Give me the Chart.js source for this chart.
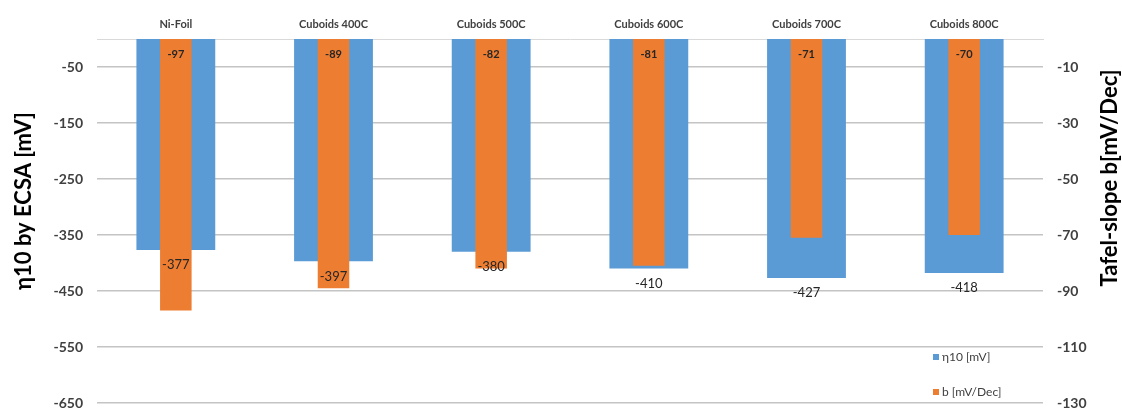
<!DOCTYPE html>
<html>
<head>
<meta charset="utf-8">
<script src="https://cdn.jsdelivr.net/npm/chart.js@4.4.1/dist/chart.umd.min.js"></script>
<style>
  html, body { margin: 0; padding: 0; background: #fff; }
  #wrap { width: 1122px; height: 408px; }
</style>
</head>
<body>
<div id="wrap"><canvas id="myChart" width="1122" height="408"></canvas></div>
<script>
// categories and values
var samples = ['Ni-Foil', 'Cuboids 400C', 'Cuboids 500C', 'Cuboids 600C', 'Cuboids 700C', 'Cuboids 800C'];
var eta10 = [-377, -397, -380, -410, -427, -418];
var tafel = [-97, -89, -82, -81, -71, -70];

// tick labels of both value axes
var eta10Ticks = [-650, -550, -450, -350, -250, -150, -50];
var tafelTicks = [-130, -110, -90, -70, -50, -30, -10];

var blue = '#5B9BD5';
var orange = '#ED7D31';
var textColor = '#404040';
var fontName = 'Lato, "Open Sans", sans-serif';

// value labels, axis titles and the legend are drawn by hand
var extrasPlugin = {
  id: 'extras',
  afterDatasetsDraw: function(chart) {
    var ctx = chart.ctx;
    ctx.save();
    ctx.textAlign = 'center';
    ctx.textBaseline = 'middle';

    // η10 values below the end of each blue bar
    var metaBlue = chart.getDatasetMeta(1);
    ctx.fillStyle = '#262626';
    ctx.font = '13px ' + fontName;
    metaBlue.data.forEach(function(bar, i) {
      ctx.fillText(chart.data.datasets[1].data[i], bar.x, bar.y + 15);
    });

    // Tafel values inside the top of each orange bar
    var metaOrange = chart.getDatasetMeta(0);
    ctx.font = 'bold 11px ' + fontName;
    metaOrange.data.forEach(function(bar, i) {
      ctx.fillText(chart.data.datasets[0].data[i], bar.x, bar.base + 15);
    });

    // axis titles, both reading bottom to top
    ctx.fillStyle = '#000';
    ctx.font = 'bold 22px ' + fontName;
    ctx.save();
    ctx.translate(24, 201);
    ctx.rotate(-Math.PI / 2);
    ctx.fillText('η10 by ECSA [mV]', 0, 0);
    ctx.restore();
    ctx.save();
    ctx.translate(1110, 178);
    ctx.rotate(-Math.PI / 2);
    ctx.fillText('Tafel-slope b[mV/Dec]', 0, 0);
    ctx.restore();

    // legend
    var items = [
      { text: chart.data.datasets[1].label, color: blue, y: 357 },
      { text: chart.data.datasets[0].label, color: orange, y: 392 }
    ];
    ctx.textAlign = 'left';
    ctx.font = '12px ' + fontName;
    items.forEach(function(it) {
      ctx.fillStyle = it.color;
      ctx.fillRect(933, it.y - 3, 6, 6);
      ctx.fillStyle = textColor;
      ctx.fillText(it.text, 942, it.y);
    });
    ctx.restore();
  }
};

// fixed width for a value axis, without the extra room Chart.js keeps for the end labels
function fitValueAxis(width) {
  return function(scale) {
    scale.width = width;
    scale.paddingTop = 0;
    scale.paddingBottom = 0;
  };
}

var ctx = document.getElementById('myChart').getContext('2d');
var myChart = new Chart(ctx, {
  type: 'bar',
  data: {
    labels: samples,
    datasets: [{
      label: 'b [mV/Dec]',
      data: tafel,
      yAxisID: 'y1',
      backgroundColor: orange,
      barPercentage: 0.2,
      categoryPercentage: 1,
      grouped: false,
      order: 0
    }, {
      label: 'η10 [mV]',
      data: eta10,
      yAxisID: 'y',
      backgroundColor: blue,
      barPercentage: 0.5,
      categoryPercentage: 1,
      grouped: false,
      order: 1
    }]
  },
  options: {
    responsive: false,
    animation: false,
    layout: { padding: { top: 0, bottom: 5, left: 0, right: 0 } },
    plugins: {
      legend: { display: false },
      tooltip: { enabled: false }
    },
    scales: {
      x: {
        position: 'top',
        grid: { display: false, drawTicks: false },
        border: { display: true, color: '#d9d9d9', width: 1 },
        ticks: {
          color: textColor,
          font: { family: fontName, size: 11, weight: 'bold' },
          padding: 8,
          maxRotation: 0
        },
        afterFit: function(scale) { scale.height = 39; }
      },
      y: {
        position: 'left',
        min: -650,
        max: 0,
        afterBuildTicks: function(scale) {
          scale.ticks = eta10Ticks.map(function(v) { return { value: v }; });
        },
        grid: { color: '#c4c4c4', lineWidth: 1.5, drawTicks: false },
        border: { display: false },
        ticks: {
          color: textColor,
          font: { family: fontName, size: 14, weight: 'bold' },
          padding: 14
        },
        afterFit: fitValueAxis(97)
      },
      y1: {
        position: 'right',
        min: -130,
        max: 0,
        afterBuildTicks: function(scale) {
          scale.ticks = tafelTicks.map(function(v) { return { value: v }; });
        },
        grid: { display: false, drawTicks: false },
        border: { display: false },
        ticks: {
          color: textColor,
          font: { family: fontName, size: 14, weight: 'bold' },
          padding: 14
        },
        afterFit: fitValueAxis(79)
      }
    }
  },
  plugins: [extrasPlugin]
});
</script>
</body>
</html>
